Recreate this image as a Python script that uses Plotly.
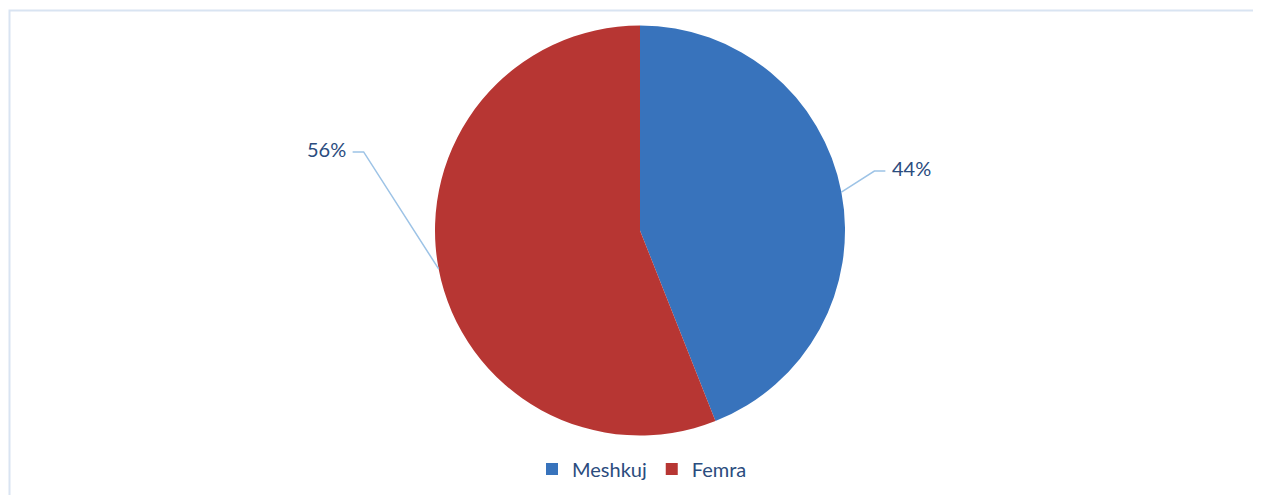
import math
import plotly.graph_objects as go

categories = ["Meshkuj", "Femra"]
values = [44, 56]
colors = ["#3873BC", "#B73633"]

W, H = 1261, 495
OFF = 8  # page body margin
cx_px, cy_px, r_px = 640, 230.5, 205


def px(x):
    return (x - OFF) / W


def py(y):
    return 1 - (y - OFF) / H


fig = go.Figure()
fig.add_trace(go.Pie(
    labels=categories, values=values, sort=False, direction="clockwise", rotation=0,
    marker=dict(colors=colors, line=dict(width=0)),
    textinfo="none", hoverinfo="label+percent",
    domain=dict(x=[px(cx_px - r_px), px(cx_px + r_px)], y=[py(cy_px + r_px), py(cy_px - r_px)]),
))

# leader line geometry (pixel offsets): elbow from slice edge, horizontal run
leaders = [((33, -21), 11), ((-75, -117), -11)]
font = dict(family="Lato, Open Sans, sans-serif", size=20, color="#2B4C7E")
total = sum(values)
cum = 0
for v, ((ex, ey), run) in zip(values, leaders):
    mid = (cum + v / 2) / total * 2 * math.pi
    cum += v
    tx = cx_px + r_px * math.sin(mid)
    ty = cy_px - r_px * math.cos(mid)
    bx, by = tx + ex, ty + ey
    endx = bx + run
    fig.add_shape(type="path", xref="paper", yref="paper",
                  path=f"M {px(tx)},{py(ty)} L {px(bx)},{py(by)} L {px(endx)},{py(by)}",
                  line=dict(color="#9DC3E6", width=1.5))
    fig.add_annotation(
        x=px(endx + (5 if run > 0 else -5)), y=py(by - 3), xref="paper", yref="paper",
        xanchor="left" if run > 0 else "right", yanchor="middle",
        text=f"{round(v / total * 100)}%", showarrow=False, font=font,
    )

fig.add_shape(type="rect", xref="paper", yref="paper",
              x0=px(9.5), x1=1.05, y0=-0.05, y1=py(10.5),
              line=dict(color="#D9E4F2", width=2), fillcolor="rgba(0,0,0,0)")

fig.update_layout(
    width=W, height=H, margin=dict(l=0, r=0, t=0, b=0),
    paper_bgcolor="white", plot_bgcolor="white",
    showlegend=True,
    legend=dict(orientation="h", x=px(642), xanchor="center", y=py(469), yanchor="middle",
                font=font, itemsizing="constant"),
)

fig.write_html("out.html")
